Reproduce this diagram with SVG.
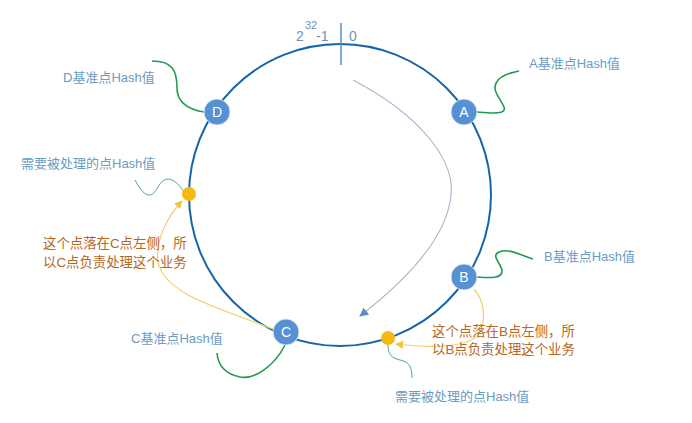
<svg xmlns="http://www.w3.org/2000/svg" width="692" height="423" viewBox="0 0 692 423">
<defs>
<style>
.lbl{font-family:"Liberation Sans","Noto Sans CJK SC",sans-serif;font-size:13px;fill:#6b9bc3}
.note{font-family:"Liberation Sans","Noto Sans CJK SC",sans-serif;font-size:13.4px;fill:#b8671e}
.num{font-family:"Liberation Sans","Noto Sans CJK SC",sans-serif;fill:#6b93b8}
.node circle{fill:#5591d3;stroke:#e8f0fa;stroke-width:0.8}
.node text{font-family:"Liberation Sans",sans-serif;font-size:14px;fill:#fff;text-anchor:middle}
.g{fill:none;stroke:#1e9b50;stroke-width:1.6}
.gt{fill:none;stroke:#4aa98a;stroke-width:1}
.y{fill:none;stroke:#f2cf6a;stroke-width:1.2}
.dot{fill:#f6b913}
</style>
<marker id="ay" viewBox="0 0 10 10" refX="9" refY="5" markerWidth="8" markerHeight="8" orient="auto" markerUnits="userSpaceOnUse"><path d="M0,0L10,5L0,10z" fill="#f2c33a"/></marker>
<marker id="ab" viewBox="0 0 10 10" refX="9" refY="5" markerWidth="9" markerHeight="9" orient="auto" markerUnits="userSpaceOnUse"><path d="M0,0L10,5L0,10z" fill="#5b8fc8"/></marker>
</defs>
<rect width="692" height="423" fill="#fff"/>
<g id="ring">
<circle cx="340" cy="195" r="151" fill="none" stroke="#1565a8" stroke-width="2"/>
<line x1="341" y1="23" x2="341" y2="65" stroke="#5b8fc8" stroke-width="1.5"/>
<text class="num" x="296" y="41" font-size="14">2</text>
<text class="num" x="305" y="29" font-size="11">32</text>
<text class="num" x="316" y="41" font-size="14">-1</text>
<text class="num" x="349" y="41" font-size="14">0</text>
</g>
<g id="connectors">
<path d="M353,80 C420,115 455,160 451,195 C447,240 400,285 360,316" fill="none" stroke="#a3b7cc" stroke-width="1.1" marker-end="url(#ab)"/>
<path class="g" d="M204,112 C186,109 177,101 177,88 C177,70 172,61 152,61"/>
<path class="g" d="M477,112 C490,113 507,115 504,107 C500,97 490,90 498,80 C504,74 511,73 519,71"/>
<path class="g" d="M477,277 C490,278 503,279 502,270 C500,262 491,256 499,252 C509,248 520,255 533,259"/>
<path class="g" d="M285,345 C275,365 255,380 240,377 C225,374 218,365 217,353"/>
<path class="gt" d="M184,192 C175,178 165,174 158,187 C151,200 144,197 135,180"/>
<path class="gt" d="M388,345 C388,355 392,358 400,360 C410,362 412,368 412,378"/>
<path class="y" d="M273,329 C220,308 165,295 158,262 C155,240 168,216 182,201" marker-end="url(#ay)"/>
<path class="y" d="M474,289 C484,300 487,320 479,334 C468,348 430,348 396,344" marker-end="url(#ay)"/>
</g>
<g id="D" class="node"><circle cx="217" cy="112" r="13"/><text x="217" y="117">D</text></g>
<g id="A" class="node"><circle cx="464" cy="112" r="13"/><text x="464" y="117">A</text></g>
<g id="B" class="node"><circle cx="464" cy="277" r="13"/><text x="464" y="282">B</text></g>
<g id="C" class="node"><circle cx="286" cy="332" r="13"/><text x="286" y="337">C</text></g>
<g id="p1"><circle class="dot" cx="189" cy="194" r="7"/></g>
<g id="p2"><circle class="dot" cx="388" cy="338" r="7"/></g>
<g id="labels">
<text class="lbl" x="63" y="82">D基准点Hash值</text>
<text class="lbl" x="529" y="68">A基准点Hash值</text>
<text class="lbl" x="544" y="261">B基准点Hash值</text>
<text class="lbl" x="131" y="343">C基准点Hash值</text>
<text class="lbl" x="21" y="168">需要被处理的点Hash值</text>
<text class="lbl" x="395" y="401">需要被处理的点Hash值</text>
<text class="note" x="43" y="248">这个点落在C点左侧，所</text>
<text class="note" x="43" y="267">以C点负责处理这个业务</text>
<text class="note" x="432" y="336">这个点落在B点左侧，所</text>
<text class="note" x="432" y="354">以B点负责处理这个业务</text>
</g>
</svg>
